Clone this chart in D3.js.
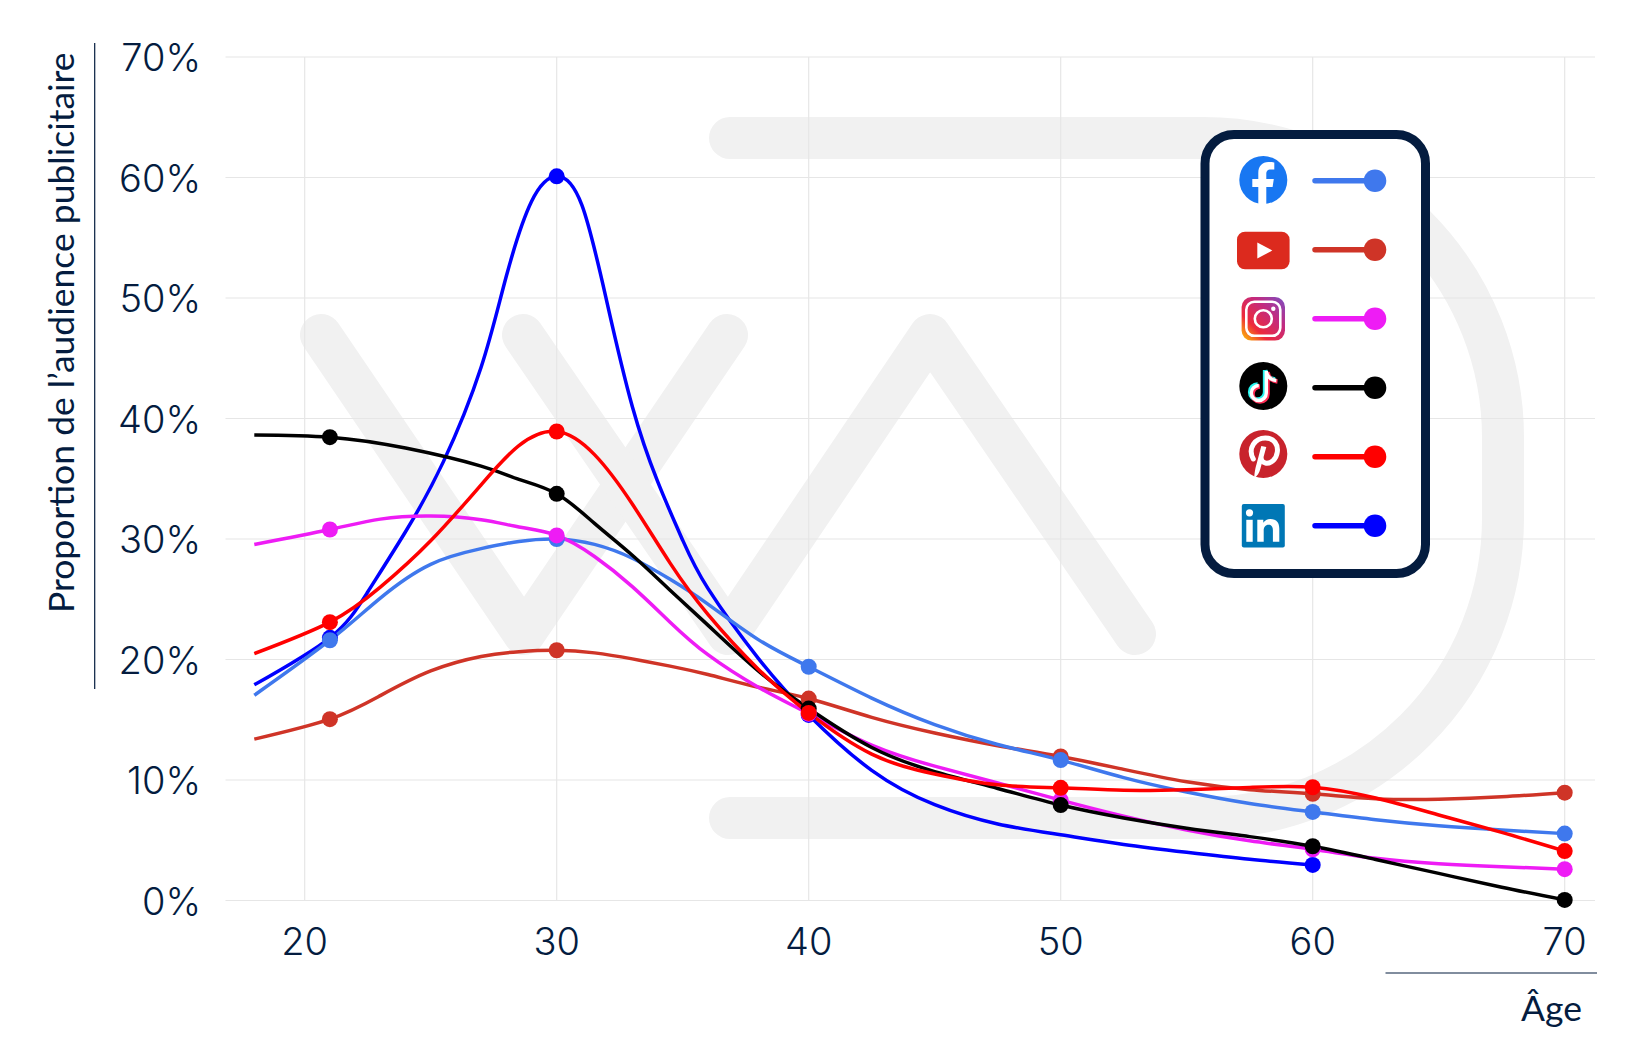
<!DOCTYPE html>
<html>
<head>
<meta charset="utf-8">
<title>Audience publicitaire par âge</title>
<script src="https://d3js.org/d3.v7.min.js"></script>
<style>
html, body { margin: 0; background: #fff; }
svg { display: block; }
text { fill: #041c3f; }
.tick { font-family: Inter, sans-serif; font-weight: 300; font-size: 38px; }
.title { font-family: Lato, sans-serif; font-size: 35.5px; }
</style>
</head>
<body>
<script>
// data, one ages/values pair per network
var ageTicks = [20, 30, 40, 50, 60, 70];
var pctTicks = [0, 10, 20, 30, 40, 50, 60, 70];
var dotAges = [21, 30, 40, 50, 60, 70];
var linkedinDotAges = [21, 30, 40, 60];

var facebookAges = [18, 21, 23, 25, 27, 28.5, 30, 31.5, 33, 34.5, 36, 38, 40, 42.5, 45, 47.5, 50, 52.5, 55, 57.5, 60, 62.5, 65, 67.5, 70];
var facebookValues = [17.03, 21.6, 25.1, 27.9, 29.2, 29.8, 30, 29.55, 28.4, 26.65, 24.6, 21.65, 19.4, 16.8, 14.6, 12.95, 11.65, 10.2, 9.0, 8.05, 7.35, 6.7, 6.2, 5.85, 5.55];

var youtubeAges = [18, 21, 23, 25, 27, 28.5, 30, 31.5, 33, 34.5, 36, 38, 40, 42.5, 45, 47.5, 50, 52.5, 55, 57.5, 60, 62.5, 65, 67.5, 70];
var youtubeValues = [13.39, 15.05, 17.0, 19.05, 20.25, 20.65, 20.77, 20.55, 20.05, 19.45, 18.75, 17.7, 16.76, 15.2, 13.9, 12.85, 11.95, 10.88, 9.85, 9.2, 8.85, 8.45, 8.4, 8.6, 8.95];

var instagramAges = [18, 21, 23, 25, 27, 28.5, 30, 31.5, 33, 34.5, 36, 38, 40, 42.5, 45, 47.5, 50, 52.5, 55, 57.5, 60, 62.5, 65, 67.5, 70];
var instagramValues = [29.55, 30.79, 31.65, 31.9, 31.6, 31.0, 30.3, 28.55, 26.05, 23.1, 20.4, 17.7, 15.5, 12.9, 11.15, 9.75, 8.33, 7.0, 5.85, 4.95, 4.25, 3.5, 3.05, 2.8, 2.6];

var tiktokAges = [18, 21, 24, 27, 28.5, 30, 31.5, 33, 34.5, 36, 38, 40, 42.5, 45, 47.5, 50, 52.5, 55, 57.5, 60, 62.5, 65, 67.5, 70];
var tiktokValues = [38.64, 38.45, 37.55, 36.05, 34.95, 33.75, 31.3, 28.65, 25.75, 22.85, 19.05, 15.93, 12.7, 10.7, 9.3, 7.92, 6.85, 6.0, 5.3, 4.5, 3.4, 2.25, 1.1, 0.05];

var pinterestAges = [18, 21, 23, 25, 27, 28.5, 30, 31.5, 33, 34.5, 36, 38, 40, 42.5, 45, 47.5, 50, 52.5, 55, 57.5, 60, 62.5, 65, 67.5, 70];
var pinterestValues = [20.49, 23.1, 26.0, 29.85, 34.5, 37.75, 38.92, 37.0, 32.9, 28.0, 23.75, 19.2, 15.57, 12.15, 10.5, 9.6, 9.35, 9.15, 9.2, 9.38, 9.4, 8.5, 7.1, 5.65, 4.1];

var linkedinAges = [18, 21, 22.5, 24, 25.5, 27, 28, 29, 30, 31, 32, 33, 34, 35, 36, 38, 40, 42.5, 45, 47.5, 50, 52.5, 55, 57.5, 60];
var linkedinValues = [17.9, 21.8, 25.6, 30.6, 36.4, 44.25, 51.8, 58, 60.1, 57.7, 49.6, 41, 34.8, 29.9, 25.9, 20.1, 15.4, 10.8, 7.95, 6.35, 5.45, 4.65, 4.0, 3.42, 2.95];

var width = 1639, height = 1045;
var x = d3.scaleLinear().domain([20, 70]).range([304.7, 1564.7]);
var y = d3.scaleLinear().domain([0, 70]).range([900.5, 57]);

var svg = d3.select("body").append("svg")
  .attr("width", width).attr("height", height);

// logo watermark behind the chart
var wm = svg.append("g").attr("fill", "none").attr("stroke", "#f1f1f1")
  .attr("stroke-width", 42).attr("stroke-linecap", "round").attr("stroke-linejoin", "round");
wm.append("path").attr("d", "M321,335 L524,634 L727,335");
wm.append("path").attr("d", "M523,335 L728,634 L930,335 L1135,634");
wm.append("path").attr("d", "M730,138 H1203 A300,300 0 0 1 1503,438 V518 A300,300 0 0 1 1203,818 H730");

// grid
svg.append("g").selectAll("line").data(pctTicks).enter().append("line")
  .attr("x1", 225.5).attr("x2", 1595)
  .attr("y1", function(d) { return y(d); }).attr("y2", function(d) { return y(d); })
  .attr("stroke", "#e6e6e6").attr("stroke-width", 1.2);
svg.append("g").selectAll("line").data(ageTicks).enter().append("line")
  .attr("x1", function(d) { return x(d); }).attr("x2", function(d) { return x(d); })
  .attr("y1", y(70)).attr("y2", y(0))
  .attr("stroke", "#e6e6e6").attr("stroke-width", 1.2);

// tick labels
svg.append("g").selectAll("text").data(pctTicks).enter().append("text")
  .attr("class", "tick").attr("text-anchor", "end").attr("x", 201)
  .attr("y", function(d) { return y(d) + 14; })
  .text(function(d) { return d + "%"; });
svg.append("g").selectAll("text").data(ageTicks).enter().append("text")
  .attr("class", "tick").attr("text-anchor", "middle")
  .attr("x", function(d) { return x(d); }).attr("y", 955)
  .text(function(d) { return d; });

// axis titles and their rules
svg.append("text").attr("class", "title").attr("text-anchor", "start")
  .attr("transform", "translate(74,613) rotate(-90)")
  .text("Proportion de l’audience publicitaire");
svg.append("line").attr("x1", 94.7).attr("x2", 94.7).attr("y1", 43).attr("y2", 689)
  .attr("stroke", "#041c3f").attr("stroke-width", 1.2);
svg.append("line").attr("x1", 1385.5).attr("x2", 1597).attr("y1", 973).attr("y2", 973)
  .attr("stroke", "#041c3f").attr("stroke-width", 1.2);
svg.append("text").attr("class", "title").attr("text-anchor", "end")
  .attr("x", 1582).attr("y", 1021).text("Âge");

// series, bottom to top
var series = [
  {name: "linkedin", color: "#0000ff", ages: linkedinAges, values: linkedinValues, dots: linkedinDotAges},
  {name: "youtube", color: "#cf3427", ages: youtubeAges, values: youtubeValues, dots: dotAges},
  {name: "facebook", color: "#3f78ed", ages: facebookAges, values: facebookValues, dots: dotAges},
  {name: "instagram", color: "#ee1cf5", ages: instagramAges, values: instagramValues, dots: dotAges},
  {name: "tiktok", color: "#000000", ages: tiktokAges, values: tiktokValues, dots: dotAges},
  {name: "pinterest", color: "#ff0000", ages: pinterestAges, values: pinterestValues, dots: dotAges}
];

series.forEach(function(s) {
  var line = d3.line()
    .x(function(d, i) { return x(s.ages[i]); })
    .y(function(d) { return y(d); })
    .curve(d3.curveNatural);
  svg.append("path").attr("d", line(s.values))
    .attr("fill", "none").attr("stroke", s.color).attr("stroke-width", 3.5);
});
series.forEach(function(s) {
  svg.append("g").selectAll("circle").data(s.dots).enter().append("circle")
    .attr("r", 8).attr("fill", s.color)
    .attr("cx", function(a) { return x(a); })
    .attr("cy", function(a) { return y(s.values[s.ages.indexOf(a)]); });
});

// legend
var defs = svg.append("defs");
var ig = defs.append("linearGradient").attr("id", "ig")
  .attr("x1", "0").attr("y1", "1").attr("x2", "1").attr("y2", "0");
ig.append("stop").attr("offset", "0").attr("stop-color", "#fdc800");
ig.append("stop").attr("offset", "0.3").attr("stop-color", "#ee2a3b");
ig.append("stop").attr("offset", "0.65").attr("stop-color", "#c32a7f");
ig.append("stop").attr("offset", "1").attr("stop-color", "#7a4fc4");

svg.append("rect").attr("x", 1205).attr("y", 134.5).attr("width", 220.5).attr("height", 439)
  .attr("rx", 29).attr("fill", "#fff").attr("stroke", "#041c3f").attr("stroke-width", 9);

var legendOrder = ["facebook", "youtube", "instagram", "tiktok", "pinterest", "linkedin"];
var legendY = d3.scalePoint().domain(legendOrder).range([180.7, 525.7]);
legendOrder.forEach(function(n) {
  var c = series.filter(function(s) { return s.name == n; })[0].color;
  svg.append("line").attr("x1", 1315).attr("x2", 1375)
    .attr("y1", legendY(n)).attr("y2", legendY(n))
    .attr("stroke", c).attr("stroke-width", 5.5).attr("stroke-linecap", "round");
  svg.append("circle").attr("cx", 1375).attr("cy", legendY(n)).attr("r", 11.3).attr("fill", c);
});

var ix = 1263.3;
// facebook
var fb = svg.append("g").attr("transform", "translate(" + ix + ",180)");
fb.append("circle").attr("r", 24).attr("fill", "#1877f2");
fb.append("path").attr("fill", "#fff")
  .attr("d", "M-5,24 V7 H-11 V-1 H-5 V-7 C-5,-14 -1,-18 5,-18 C8,-18 11,-17.5 11,-17.5 V-10.5 H7.5 C4,-10.5 3,-8.5 3,-6 V-1 H10.5 L9.3,7 H3 V24 Z");
// youtube
var yt = svg.append("g").attr("transform", "translate(" + ix + ",250.5)");
yt.append("rect").attr("x", -26.3).attr("y", -18.8).attr("width", 52.6).attr("height", 37.6)
  .attr("rx", 8).attr("fill", "#dc2a1e");
yt.append("path").attr("fill", "#fff").attr("d", "M-6,-8 L9,0 L-6,8 Z");
// instagram
var ins = svg.append("g").attr("transform", "translate(" + ix + ",318.8)");
ins.append("rect").attr("x", -21.7).attr("y", -21.8).attr("width", 43.4).attr("height", 43.6)
  .attr("rx", 10).attr("fill", "url(#ig)");
ins.append("rect").attr("x", -17).attr("y", -17).attr("width", 34).attr("height", 34)
  .attr("rx", 8).attr("fill", "none").attr("stroke", "#fff").attr("stroke-width", 2.6);
ins.append("circle").attr("r", 8.5).attr("fill", "none").attr("stroke", "#fff").attr("stroke-width", 2.6);
ins.append("circle").attr("cx", 10).attr("cy", -10).attr("r", 2.2).attr("fill", "#fff");
// tiktok
var tt = svg.append("g").attr("transform", "translate(" + ix + ",386)");
tt.append("circle").attr("r", 24).attr("fill", "#000");
var note = "M3,-15 V7 A7.5,7.5 0 1 1 -4.5,-0.5 M3,-15 C4,-9 8,-6 13,-5.5";
tt.append("path").attr("d", note).attr("fill", "none").attr("stroke", "#25f4ee").attr("stroke-width", 4.5)
  .attr("transform", "translate(-1.2,-1)");
tt.append("path").attr("d", note).attr("fill", "none").attr("stroke", "#fe2c55").attr("stroke-width", 4.5)
  .attr("transform", "translate(1.2,1)");
tt.append("path").attr("d", note).attr("fill", "none").attr("stroke", "#fff").attr("stroke-width", 3.4);
// pinterest
var pi = svg.append("g").attr("transform", "translate(" + ix + ",454)");
pi.append("circle").attr("r", 24).attr("fill", "#c8232c");
pi.append("path").attr("fill", "none").attr("stroke", "#fff").attr("stroke-width", 5).attr("stroke-linecap", "round")
  .attr("d", "M-10,5 C-16,-6 -8,-16 2,-16 C11,-16 15,-9 14,-2 C13,6 7,10 2,9 C-1,8 -2,6 -2,5");
pi.append("path").attr("fill", "#fff").attr("d", "M-2,-8 L3,-7 L-3,15 C-4,19 -6,22 -9,24 C-9,20 -8,14 -7,11 Z");
// linkedin
var li = svg.append("g").attr("transform", "translate(" + ix + ",525.8)");
li.append("rect").attr("x", -21.5).attr("y", -21.8).attr("width", 43).attr("height", 43.6)
  .attr("rx", 2).attr("fill", "#0077b5");
li.append("circle").attr("cx", -13.8).attr("cy", -13).attr("r", 3.6).attr("fill", "#fff");
li.append("rect").attr("x", -17).attr("y", -6).attr("width", 6.4).attr("height", 22).attr("fill", "#fff");
li.append("path").attr("fill", "#fff")
  .attr("d", "M-6,-6 H0 V-3 C1.5,-5.5 4,-6.8 7,-6.8 C13.5,-6.8 16,-3 16,3 V16 H9.6 V4.5 C9.6,1.5 8.6,-1 5.4,-1 C2,-1 0.4,1.5 0.4,4.5 V16 H-6 Z");
</script>
</body>
</html>
